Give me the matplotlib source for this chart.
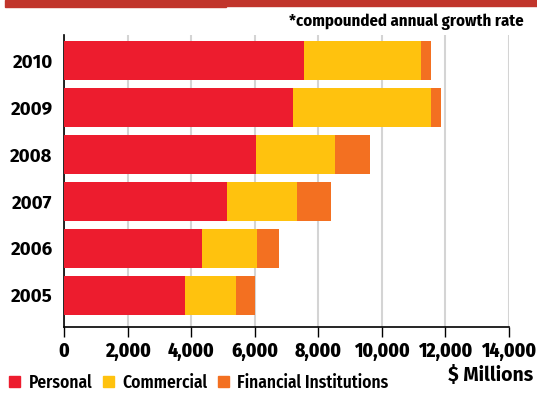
import matplotlib
matplotlib.use("Agg")
import matplotlib.pyplot as plt
from matplotlib.patches import Patch, Rectangle

years = ["2005", "2006", "2007", "2008", "2009", "2010"]
personal = [3800, 4340, 5130, 6040, 7200, 7550]
commercial = [1610, 1730, 2200, 2490, 4350, 3680]
financial = [600, 690, 1070, 1100, 310, 310]

series = [("Personal", personal, "#ED1C2E"),
          ("Commercial", commercial, "#FFC20E"),
          ("Financial Institutions", financial, "#F37021")]

cond = ["Fira Sans Condensed", "DejaVu Sans"]
wide = ["Fira Sans", "DejaVu Sans"]

fig = plt.figure(figsize=(5.37, 3.93), dpi=100)
ax = fig.add_axes([0.1192, 0.1687, 0.8287, 0.7422])

# red banner along the top edge
fig.patches.append(Rectangle((0.009, 0.982), 0.412, 0.018, transform=fig.transFigure,
                             color="#C1352B", zorder=5))
fig.patches.append(Rectangle((0.42, 0.986), 0.58, 0.014, transform=fig.transFigure,
                             color="#C1352B", zorder=5))

ypos = list(range(len(years)))
left = [0] * len(years)
for name, vals, col in series:
    ax.barh(ypos, vals, left=left, height=0.83, color=col, label=name, zorder=3)
    left = [a + b for a, b in zip(left, vals)]

ax.set_xlim(0, 14000)
ax.set_ylim(-0.664, 5.543)
ax.set_xticks(range(0, 14001, 2000))
ax.set_xticklabels([f"{v:,}" for v in range(0, 14001, 2000)],
                   family=cond, fontweight=800, fontsize=14)
ax.set_yticks(ypos)
ax.set_yticklabels(years, family=wide, fontweight="bold", fontsize=13.5)
ax.tick_params(axis="y", length=0, pad=8)
ax.tick_params(axis="x", length=7, width=1, direction="out", pad=4)
ax.xaxis.grid(True, color="#D4D4D4", linewidth=1.5, zorder=0)
ax.set_axisbelow(True)
for s in ["top", "right"]:
    ax.spines[s].set_visible(False)
for s in ["left", "bottom"]:
    ax.spines[s].set_linewidth(1.2)
    ax.spines[s].set_color("black")

fig.text(0.976, 0.945, "*compounded annual growth rate", ha="right", va="center",
         family=cond, fontweight="bold", fontsize=12)
fig.text(0.993, 0.045, "$ Millions", ha="right", va="center",
         family=wide, fontweight="bold", fontsize=14)

handles = [Patch(color=c, label=n) for n, _, c in series]
leg = fig.legend(handles=handles, loc="lower left", bbox_to_anchor=(-0.012, -0.036),
                 ncol=3, frameon=False, handlelength=0.62, handleheight=0.62,
                 handletextpad=0.5, columnspacing=0.6,
                 prop={"family": cond, "weight": 600, "size": 12.5})

fig.savefig("out.png", dpi=100)
